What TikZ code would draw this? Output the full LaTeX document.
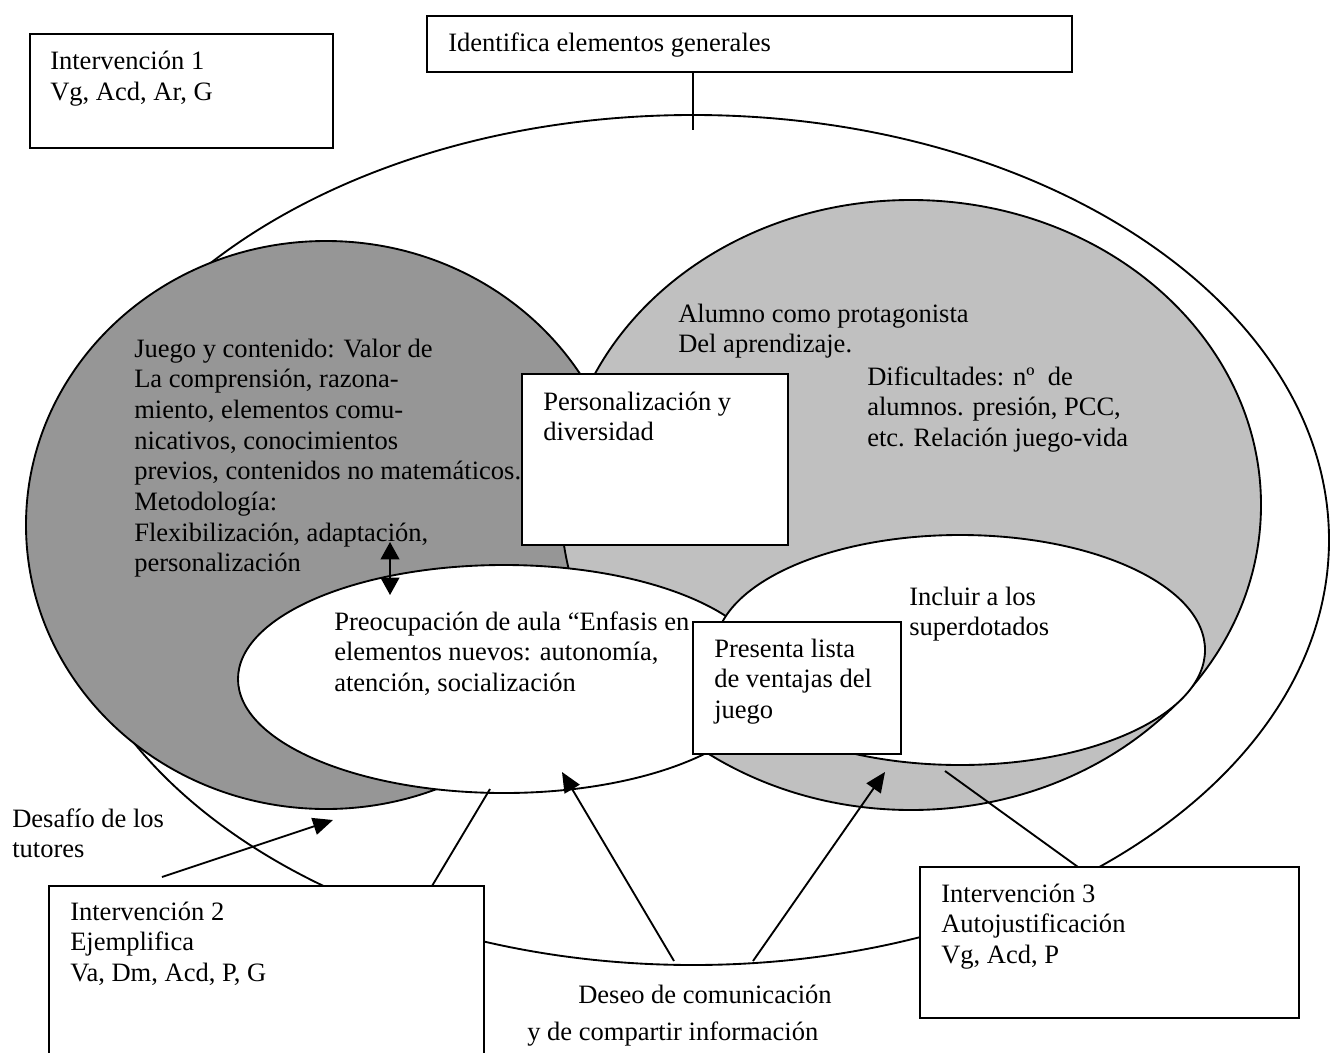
\documentclass[tikz,border=0pt]{standalone}
\usepackage{fontspec}
\setmainfont{Liberation Serif}
\usetikzlibrary{shapes.geometric,arrows.meta,fit}
\definecolor{dkgray}{RGB}{150,150,150}
\definecolor{ltgray}{RGB}{192,192,192}
\newcommand{\mlines}[1]{\begin{tabular}[t]{@{}l@{}}#1\end{tabular}}
\begin{document}
\begin{tikzpicture}[x=0.75pt,y=-0.75pt,
  every node/.style={inner sep=0pt},
  ell/.style={ellipse, draw, line width=1.4pt, inner sep=0pt},
  boxn/.style={rectangle, draw, line width=1.4pt, fill=white, inner sep=0pt},
  txt/.style={anchor=base west, inner sep=0pt, font=\fontsize{19.9}{23}\selectfont},
  con/.style={line width=1.4pt},
  arr/.style={con, -{Triangle[length=15pt,width=13pt]}},
  darr/.style={con, {Triangle[length=13pt,width=14pt]}-{Triangle[length=13pt,width=14pt]}}
]
\useasboundingbox (0,0) rectangle (1330,1052);
\fill[white] (0,0) rectangle (1330,1052);

% ellipses
\node[ell, minimum width={1272*0.75pt}, minimum height={850*0.75pt}] (outer) at (693,540) {};
\node[ell, fill=dkgray, minimum width={600*0.75pt}, minimum height={568*0.75pt}] (dark) at (326,525) {};
\node[ell, fill=ltgray, minimum width={700*0.75pt}, minimum height={610*0.75pt}] (light) at (911,505) {};
\node[ell, fill=white, minimum width={532*0.75pt}, minimum height={228*0.75pt}] (preo) at (504,679) {};
\node[ell, fill=white, minimum width={490*0.75pt}, minimum height={230*0.75pt}] (incl) at (960,650) {};

% texts inside regions
\node[txt] (juego) at (134,357) {\mlines{Juego y contenido: Valor de\\La comprensión, razona-\\miento, elementos comu-\\nicativos, conocimientos\\previos, contenidos no matemáticos.\\Metodología:\\Flexibilización, adaptación,\\personalización}};
\node[txt] (alumno) at (678,322) {\mlines{Alumno como protagonista\\Del aprendizaje.}};
\node[txt] (dific) at (867,385) {\mlines{Dificultades: nº \ de\\alumnos. presión, PCC,\\etc. Relación juego-vida}};
\node[txt] (preotxt) at (334,630) {\mlines{Preocupación de aula “Enfasis en\\elementos nuevos: autonomía,\\atención, socialización}};
\node[txt] (incltxt) at (909,605) {\mlines{Incluir a los\\superdotados}};

% boxes
\node[boxn, fit={(522,374) (788,545)}] (pers) {};
\node[txt] (perstxt) at (543,410) {\mlines{Personalización y\\diversidad}};
\node[boxn, fit={(693,622) (901,754)}] (pres) {};
\node[txt] (prestxt) at (714,657) {\mlines{Presenta lista\\de ventajas del\\juego}};
\node[boxn, fit={(30,34) (333,148)}] (i1) {};
\node[txt] (i1txt) at (50,70) {\mlines{Intervención 1\\Vg, Acd, Ar, G}};
\node[boxn, fit={(427,16) (1072,72)}] (ident) {};
\node[txt] (identtxt) at (448,52) {Identifica elementos generales};
\node[boxn, fit={(49,886) (484,1070)}] (i2) {};
\node[txt] (i2txt) at (70,920) {\mlines{Intervención 2\\Ejemplifica\\Va, Dm, Acd, P, G}};
\node[boxn, fit={(920,867) (1299,1018)}] (i3) {};
\node[txt] (i3txt) at (941,902) {\mlines{Intervención 3\\Autojustificación\\Vg, Acd, P}};

% free labels
\node[txt] (desafio) at (12,827) {\mlines{Desafío de los\\tutores}};
\node[txt] (deseo1) at (578,1003) {Deseo de comunicación};
\node[txt] (deseo2) at (527,1040) {y de compartir información};

% connector end points
\coordinate (identEnd) at (693,130);
\coordinate (i2Top) at (432,886);
\coordinate (preoBot) at (490,789);
\coordinate (i3Top) at (1078,867);
\coordinate (inclBot) at (945,771);
\coordinate (desStart) at (162,877);
\coordinate (desTip) at (333,820);
\coordinate (deseoA) at (674,961);
\coordinate (deseoB) at (753,961);
\coordinate (tipA) at (562,772);
\coordinate (tipB) at (885,772);
\coordinate (dTop) at (390,542);
\coordinate (dBot) at (390,595);

% connectors
\draw[con] (identEnd |- ident.south) -- (identEnd);
\draw[con] (i2Top) -- (preoBot);
\draw[con] (i3Top) -- (inclBot);
\draw[arr] (desStart) -- (desTip);
\draw[arr] (deseoA) -- (tipA);
\draw[arr] (deseoB) -- (tipB);
\draw[darr] (dBot) -- (dTop);
\end{tikzpicture}
\end{document}
